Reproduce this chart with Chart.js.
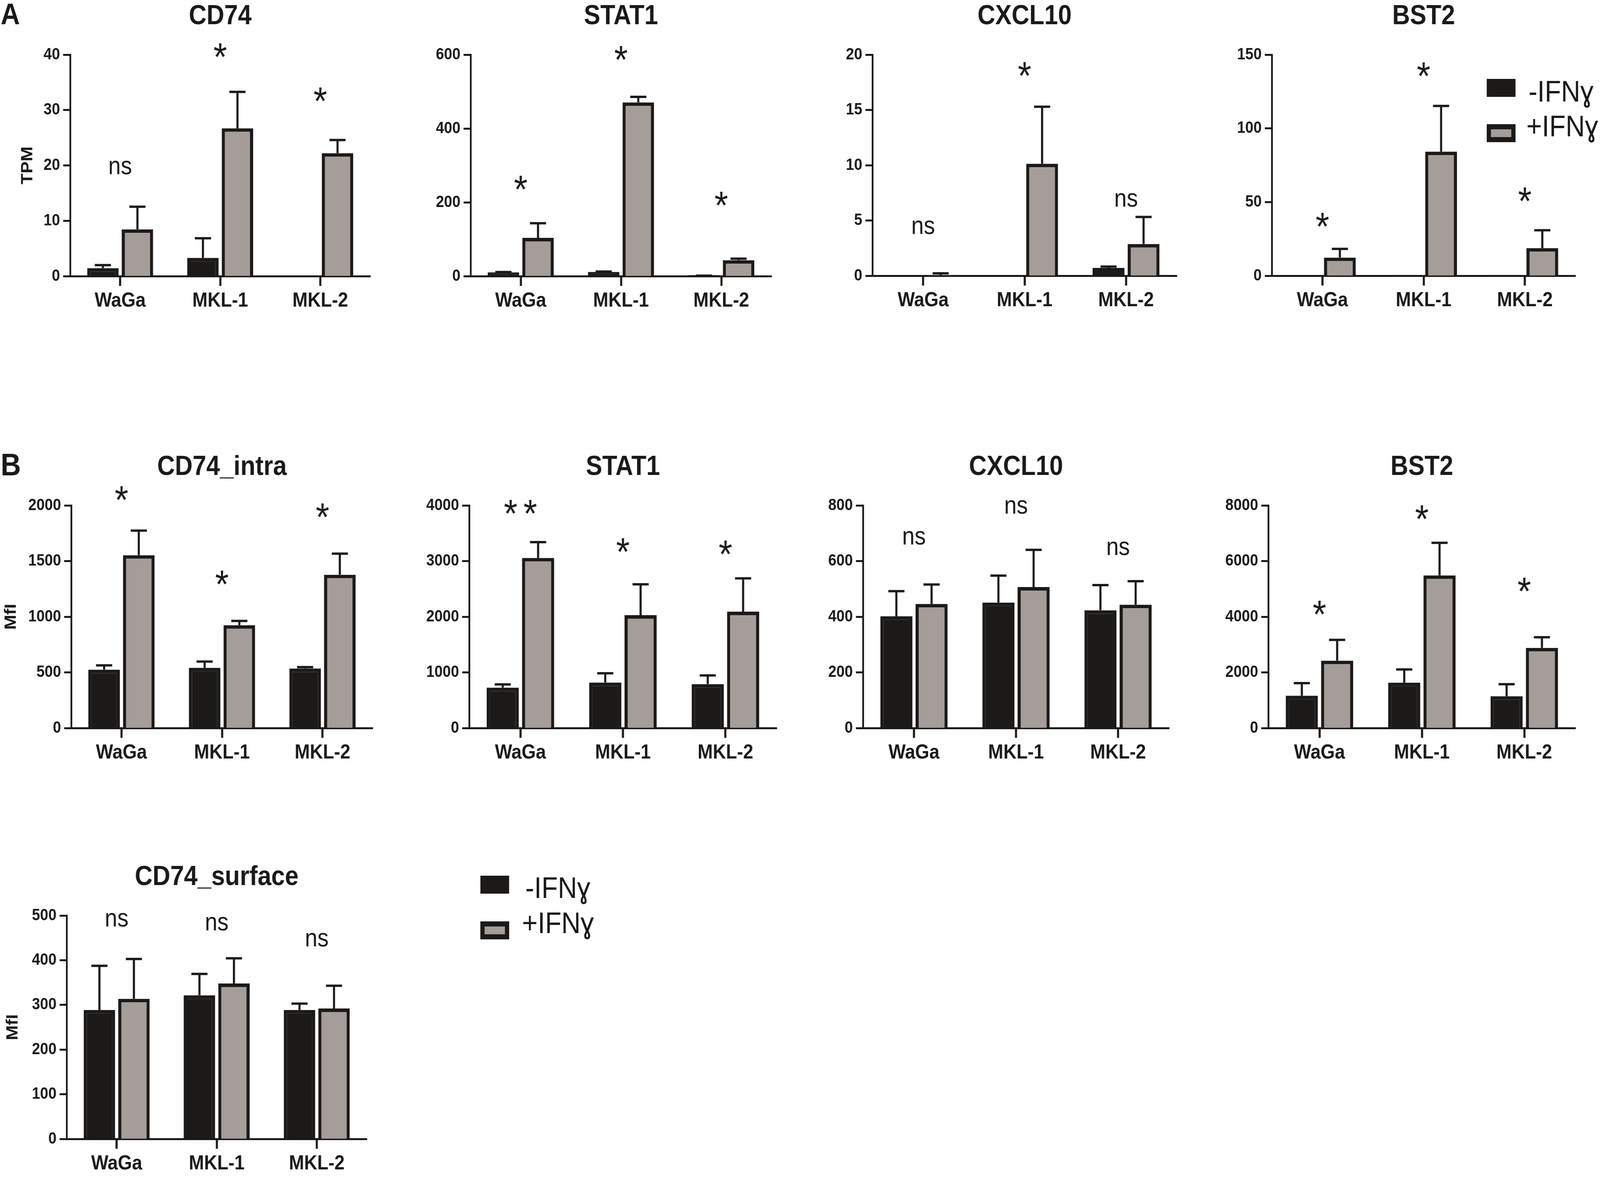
<!DOCTYPE html>
<html>
<head>
<meta charset="utf-8">
<title>IFN-gamma response in MCC cell lines</title>
<script src="https://cdn.jsdelivr.net/npm/chart.js@4.4.1/dist/chart.umd.min.js"></script>
<style>
  html, body { margin: 0; padding: 0; background: #fff; overflow: hidden; }
  body { font-family: "Liberation Sans", Arial, sans-serif; color: #1b1a18; }
  #stage { position: absolute; left: 0; top: 0; width: 4563px; height: 3016px; transform-origin: 0 0; }
  canvas { position: absolute; }
  .tag { position: absolute; font-weight: bold; line-height: 1; }
  .key { position: absolute; box-sizing: border-box; width: 82px; height: 46px; }
  .key.off { background: #1b1a18; }
  .key.on { background: #a59d9a; border: 12px solid #1b1a18; border-top-width: 13px; border-bottom-width: 13px; }
  .keytxt { position: absolute; font-size: 76px; line-height: 1; white-space: nowrap; }
</style>
</head>
<body>
<div id="stage">
  <div class="tag" style="left:2px; top:-2px; font-size:76px;">A</div>
  <div class="tag" style="left:2px; top:1150px; font-size:80px;">B</div>

  <!-- legend next to panel A -->
  <div class="key off" style="left:4240px; top:202px;"></div>
  <div class="key on" style="left:4240px; top:318px;"></div>
  <div class="keytxt" style="left:4359px; top:196px;">-IFNɣ</div>
  <div class="keytxt" style="left:4353px; top:285px;">+IFNɣ</div>

  <!-- legend next to CD74_surface -->
  <div class="key off" style="left:1370px; top:2242px;"></div>
  <div class="key on" style="left:1370px; top:2359px;"></div>
  <div class="keytxt" style="left:1498px; top:2235px;">-IFNɣ</div>
  <div class="keytxt" style="left:1489px; top:2325px;">+IFNɣ</div>
</div>

<script>
// ---- data (mean, SD, significance label + its height) ----
const cellLines = ["WaGa", "MKL-1", "MKL-2"];
const seriesNames = ["-IFNɣ", "+IFNɣ"];

// A: RNA-seq (TPM)
const cd74TpmMinus = [1.45, 3.3, 0];
const cd74TpmMinusSd = [0.75, 3.75, 0];
const cd74TpmPlus = [8.45, 26.7, 22.2];
const cd74TpmPlusSd = [4.3, 6.8, 2.6];
const cd74TpmSig = ["ns", "*", "*"];
const cd74TpmSigAt = [19.6, 40.8, 32.8];

const stat1TpmMinus = [10.4, 11.5, 3];
const stat1TpmMinusSd = [4, 4, 1.6];
const stat1TpmPlus = [103.6, 470.6, 43];
const stat1TpmPlusSd = [43, 18.4, 7.6];
const stat1TpmSig = ["*", "*", "*"];
const stat1TpmSigAt = [253, 604, 210];

const cxcl10TpmMinus = [0, 0, 0.71];
const cxcl10TpmMinusSd = [0, 0, 0.23];
const cxcl10TpmPlus = [0.05, 10.13, 2.87];
const cxcl10TpmPlusSd = [0.28, 5.27, 2.55];
const cxcl10TpmSig = ["ns", "*", "ns"];
const cxcl10TpmSigAt = [4.37, 18.7, 6.87];

const bst2TpmMinus = [0, 0.3, 0.3];
const bst2TpmMinusSd = [0, 0, 0];
const bst2TpmPlus = [12.3, 84.2, 18.75];
const bst2TpmPlusSd = [6.7, 31.8, 12.95];
const bst2TpmSig = ["*", "*", "*"];
const bst2TpmSigAt = [37.8, 140, 55];

// B: flow cytometry (MFI)
const cd74IntraMinus = [525, 541, 535];
const cd74IntraMinusSd = [49, 67, 23];
const cd74IntraPlus = [1553, 924, 1377];
const cd74IntraPlusSd = [231, 49, 200];
const cd74IntraSig = ["*", "*", "*"];
const cd74IntraSigAt = [2108, 1351, 1955];

const stat1MfiMinus = [726, 817, 789];
const stat1MfiMinusSd = [79, 189, 177];
const stat1MfiPlus = [3057, 2028, 2091];
const stat1MfiPlusSd = [304, 576, 619];
const stat1MfiSig = ["**", "*", "*"];
const stat1MfiSigAt = [3972, 3282, 3243];

const cxcl10MfiMinus = [401.6, 451, 423];
const cxcl10MfiMinusSd = [94.4, 101, 95];
const cxcl10MfiPlus = [446, 506.5, 443];
const cxcl10MfiPlusSd = [74, 138, 89];
const cxcl10MfiSig = ["ns", "ns", "ns"];
const cxcl10MfiSigAt = [684, 794, 646];

const bst2MfiMinus = [1160, 1633, 1144];
const bst2MfiMinusSd = [497, 513, 473];
const bst2MfiPlus = [2422, 5483, 2880];
const bst2MfiPlusSd = [789, 1215, 426];
const bst2MfiSig = ["*", "*", "*"];
const bst2MfiSigAt = [4316, 7748, 5144];

const cd74SurfMinus = [288.6, 321.4, 288.6];
const cd74SurfMinusSd = [101.4, 50.6, 17];
const cd74SurfPlus = [313.7, 348, 292];
const cd74SurfPlusSd = [91.7, 59, 53.6];
const cd74SurfSig = ["ns", "ns", "ns"];
const cd74SurfSigAt = [490, 482, 446];

// ---- look ----
const INK = "#1b1a18";
const GREY = "#a59d9a";
const FAMILY = '"Liberation Sans", Arial, sans-serif';
const AXIS_W = 200;     // room left of the y axis line
const TOP_PAD = 140;    // room above the plot for title and stars
const X_AXIS_H = 110;
const RIGHT_PAD = 30;

// the figure is laid out on a 4563 x 3016 sheet; stretch it over the real viewport
// (the browser caps the width, so the sheet has to fill whatever we get)
const stage = document.getElementById("stage");
const sx = window.innerWidth / 4563;
const sy = window.innerHeight / 3016;
stage.style.transform = "scale(" + sx + "," + sy + ")";
const pixelRatio = Math.max(1, (window.devicePixelRatio || 1) * Math.max(sx, sy));

Chart.defaults.font.family = FAMILY;
Chart.defaults.color = INK;

// x/y = where the y axis meets the top tick, w/h = plot size
const panels = [
  { title: "CD74", yTitle: "TPM", yPad: 52, max: 40, step: 10, x: 200, y: 140, w: 856, h: 567,
    minus: cd74TpmMinus, minusSd: cd74TpmMinusSd, plus: cd74TpmPlus, plusSd: cd74TpmPlusSd, sig: cd74TpmSig, sigAt: cd74TpmSigAt },
  { title: "STAT1", max: 600, step: 200, x: 1342, y: 140, w: 858, h: 567,
    minus: stat1TpmMinus, minusSd: stat1TpmMinusSd, plus: stat1TpmPlus, plusSd: stat1TpmPlusSd, sig: stat1TpmSig, sigAt: stat1TpmSigAt },
  { title: "CXCL10", max: 20, step: 5, x: 2488, y: 140, w: 868, h: 566,
    minus: cxcl10TpmMinus, minusSd: cxcl10TpmMinusSd, plus: cxcl10TpmPlus, plusSd: cxcl10TpmPlusSd, sig: cxcl10TpmSig, sigAt: cxcl10TpmSigAt },
  { title: "BST2", max: 150, step: 50, x: 3627, y: 140, w: 866, h: 566,
    minus: bst2TpmMinus, minusSd: bst2TpmMinusSd, plus: bst2TpmPlus, plusSd: bst2TpmPlusSd, sig: bst2TpmSig, sigAt: bst2TpmSigAt },

  { title: "CD74_intra", yTitle: "MfI", yPad: 2, max: 2000, step: 500, x: 203, y: 1294, w: 860, h: 570,
    minus: cd74IntraMinus, minusSd: cd74IntraMinusSd, plus: cd74IntraPlus, plusSd: cd74IntraPlusSd, sig: cd74IntraSig, sigAt: cd74IntraSigAt },
  { title: "STAT1", max: 4000, step: 1000, x: 1338, y: 1294, w: 877, h: 570,
    minus: stat1MfiMinus, minusSd: stat1MfiMinusSd, plus: stat1MfiPlus, plusSd: stat1MfiPlusSd, sig: stat1MfiSig, sigAt: stat1MfiSigAt },
  { title: "CXCL10", max: 800, step: 200, x: 2461, y: 1294, w: 873, h: 570,
    minus: cxcl10MfiMinus, minusSd: cxcl10MfiMinusSd, plus: cxcl10MfiPlus, plusSd: cxcl10MfiPlusSd, sig: cxcl10MfiSig, sigAt: cxcl10MfiSigAt },
  { title: "BST2", max: 8000, step: 2000, x: 3617, y: 1294, w: 876, h: 570,
    minus: bst2MfiMinus, minusSd: bst2MfiMinusSd, plus: bst2MfiPlus, plusSd: bst2MfiPlusSd, sig: bst2MfiSig, sigAt: bst2MfiSigAt },

  { title: "CD74_surface", yTitle: "MfI", yPad: 20, max: 500, step: 100, x: 190, y: 2344, w: 856, h: 572,
    minus: cd74SurfMinus, minusSd: cd74SurfMinusSd, plus: cd74SurfPlus, plusSd: cd74SurfPlusSd, sig: cd74SurfSig, sigAt: cd74SurfSigAt }
];

// panel heading, centred over the plot area
const panelTitle = {
  id: "panelTitle",
  afterDraw(chart) {
    const p = chart.canvas.panel, a = chart.chartArea, ctx = chart.ctx;
    ctx.save();
    ctx.font = "bold 70px " + FAMILY;
    ctx.fillStyle = INK;
    ctx.textAlign = "center";
    ctx.textBaseline = "alphabetic";
    ctx.fillText(p.title, (a.left + a.right) / 2, a.top - 78);
    ctx.restore();
  }
};

// one-sided (upper) SD bars
const errorBars = {
  id: "errorBars",
  afterDatasetsDraw(chart) {
    const ctx = chart.ctx, ys = chart.scales.y;
    ctx.save();
    ctx.strokeStyle = INK;
    ctx.lineWidth = 6;
    chart.data.datasets.forEach((ds, i) => {
      chart.getDatasetMeta(i).data.forEach((bar, j) => {
        const sd = ds.sd[j];
        if (!sd) return;
        const top = ys.getPixelForValue(ds.data[j] + sd);
        ctx.beginPath();
        ctx.moveTo(bar.x, bar.y);
        ctx.lineTo(bar.x, top);
        ctx.moveTo(bar.x - 23, top + 3);
        ctx.lineTo(bar.x + 23, top + 3);
        ctx.stroke();
      });
    });
    ctx.restore();
  }
};

// "ns" / "*" over each cell line
const sigMarks = {
  id: "sigMarks",
  afterDatasetsDraw(chart) {
    const p = chart.canvas.panel, ctx = chart.ctx;
    const xs = chart.scales.x, ys = chart.scales.y;
    ctx.save();
    ctx.fillStyle = INK;
    ctx.textAlign = "center";
    ctx.textBaseline = "alphabetic";
    p.sig.forEach((t, j) => {
      const stars = /^\*+$/.test(t);
      ctx.font = (stars ? "100px " : "64px ") + FAMILY;
      const glyph = stars ? "*" : t;
      const m = ctx.measureText(glyph);
      const cy = ys.getPixelForValue(p.sigAt[j]) + (m.actualBoundingBoxAscent - m.actualBoundingBoxDescent) / 2;
      const cx = xs.getPixelForValue(j);
      if (stars) {
        const pitch = 56;
        for (let k = 0; k < t.length; k++) {
          ctx.fillText("*", cx + (k - (t.length - 1) / 2) * pitch, cy);
        }
      } else {
        ctx.fillText(t, cx, cy);
      }
    });
    ctx.restore();
  }
};

function drawPanel(p) {
  const c = document.createElement("canvas");
  const W = AXIS_W + p.w + RIGHT_PAD;
  const H = TOP_PAD + p.h + X_AXIS_H;
  c.style.width = W + "px";
  c.style.height = H + "px";
  c.width = W;
  c.height = H;
  c.style.left = (p.x - AXIS_W) + "px";
  c.style.top = (p.y - TOP_PAD) + "px";
  c.panel = p;
  stage.appendChild(c);

  new Chart(c, {
    type: "bar",
    data: {
      labels: cellLines,
      datasets: [
        { label: seriesNames[0], data: p.minus, sd: p.minusSd,
          backgroundColor: INK, borderColor: INK, borderWidth: 9, borderSkipped: "start" },
        { label: seriesNames[1], data: p.plus, sd: p.plusSd,
          backgroundColor: GREY, borderColor: INK, borderWidth: 9, borderSkipped: "start" }
      ]
    },
    options: {
      responsive: false,
      animation: false,
      devicePixelRatio: pixelRatio,
      layout: { padding: { top: TOP_PAD, right: RIGHT_PAD, left: 0, bottom: 0 } },
      datasets: { bar: { categoryPercentage: 0.69, barPercentage: 0.91 } },
      plugins: { legend: { display: false }, tooltip: { enabled: false } },
      scales: {
        x: {
          grid: { offset: false, drawOnChartArea: false, tickLength: 25, tickWidth: 6, tickColor: INK },
          border: { color: INK, width: 5 },
          ticks: { color: INK, padding: 7, font: { size: 52, weight: "bold" } },
          afterFit(s) { s.height = X_AXIS_H; }
        },
        y: {
          min: 0,
          max: p.max,
          grid: { drawOnChartArea: false, tickLength: 20, tickWidth: 5, tickColor: INK },
          border: { color: INK, width: 5 },
          ticks: { stepSize: p.step, color: INK, padding: 9, font: { size: 42, weight: "bold" },
                   callback: v => String(v) },
          title: { display: !!p.yTitle, text: p.yTitle || "", color: INK,
                   font: { size: 46, weight: "bold" }, padding: { top: p.yPad || 0, bottom: 0 } },
          afterFit(s) { s.width = AXIS_W; }
        }
      }
    },
    plugins: [panelTitle, errorBars, sigMarks]
  });
}

panels.forEach(drawPanel);
</script>
</body>
</html>
